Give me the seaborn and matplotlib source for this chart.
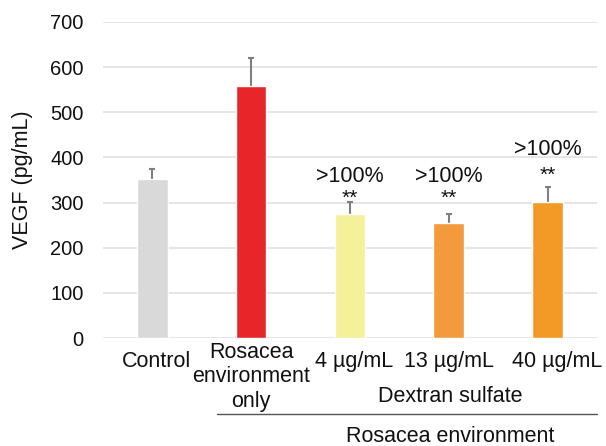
import matplotlib
matplotlib.use("Agg")
import matplotlib.pyplot as plt
import matplotlib.transforms as mtransforms
import seaborn as sns
import pandas as pd

categories = ["Control", "Rosacea\nenvironment\nonly", "4 µg/mL", "13 µg/mL", "40 µg/mL"]
values = [352, 559, 275, 255, 301]
errors = [23, 61, 27, 20, 34]
colors = ["#d9d9d9", "#e8262a", "#f5f09a", "#f39a3c", "#f39a26"]
annot_pct = ["", "", ">100%", ">100%", ">100%"]
annot_sig = ["", "", "**", "**", "**"]
yticks = [0, 100, 200, 300, 400, 500, 600, 700]

# label heights (data units) for the annotations
pct_y = [0, 0, 346, 346, 405]
sig_y = [0, 0, 330, 330, 381]

sns.set_theme(style="white")
plt.rcParams['font.family'] = ['Liberation Sans', 'DejaVu Sans']

df = pd.DataFrame({"cat": categories, "val": values})

fig = plt.figure(figsize=(6.06, 4.46), dpi=100)
ax = fig.add_axes([0.170, 0.242, 0.815, 0.709])

ax.errorbar(range(len(values)), values, yerr=errors, fmt="none",
            ecolor="#7f7f7f", elinewidth=1.5, capsize=2.5, capthick=1.5, zorder=1)
sns.barplot(data=df, x="cat", y="val", hue="cat", palette=colors, width=0.31,
            legend=False, ax=ax, errorbar=None, saturation=1, zorder=2)

ax.set_xlim(-0.5, 4.5)
ax.set_ylim(0, 700)
ax.set_yticks(yticks)
ax.set_yticklabels([str(t) for t in yticks], fontsize=14.5)
ax.grid(axis="y", color="#e4e4e4", linewidth=1.3, zorder=0)
ax.set_axisbelow(True)
for s in ax.spines.values():
    s.set_visible(False)
ax.tick_params(axis="both", length=0, labelcolor="#111111")
ax.tick_params(axis="y", pad=14)
ax.set_xticks(range(len(categories)))
ax.set_xticklabels(categories, fontsize=15.5, linespacing=1.2)
ax.tick_params(axis="x", pad=9)
ax.xaxis.get_major_ticks()[1].set_pad(3)
shifts = [4, 0, 4, 0, 10]
for lab, dx in zip(ax.get_xticklabels(), shifts):
    lab.set_transform(lab.get_transform() +
                      mtransforms.ScaledTranslation(dx / 100, 0, fig.dpi_scale_trans))
ax.set_xlabel("")
ax.set_ylabel("VEGF (pg/mL)", fontsize=15.5, labelpad=12, color="#111111")

for i, (p, s) in enumerate(zip(annot_pct, annot_sig)):
    if not p:
        continue
    ax.text(i, sig_y[i], s, ha="center", va="top", fontsize=15, color="#111111")
    ax.text(i, pct_y[i], p, ha="center", va="baseline", fontsize=15.5, color="#111111")

# group labels
fig.text(450/606, 1 - 397/446, "Dextran sulfate", ha="center", va="center", fontsize=15.5, color="#111111")
fig.add_artist(plt.Line2D([217/606, 597/606], [1 - 414/446, 1 - 414/446],
                          color="#555555", linewidth=1.0))
fig.text(450/606, 1 - 437/446, "Rosacea environment", ha="center", va="center", fontsize=15.5, color="#111111")

fig.savefig("out.png", dpi=100)
